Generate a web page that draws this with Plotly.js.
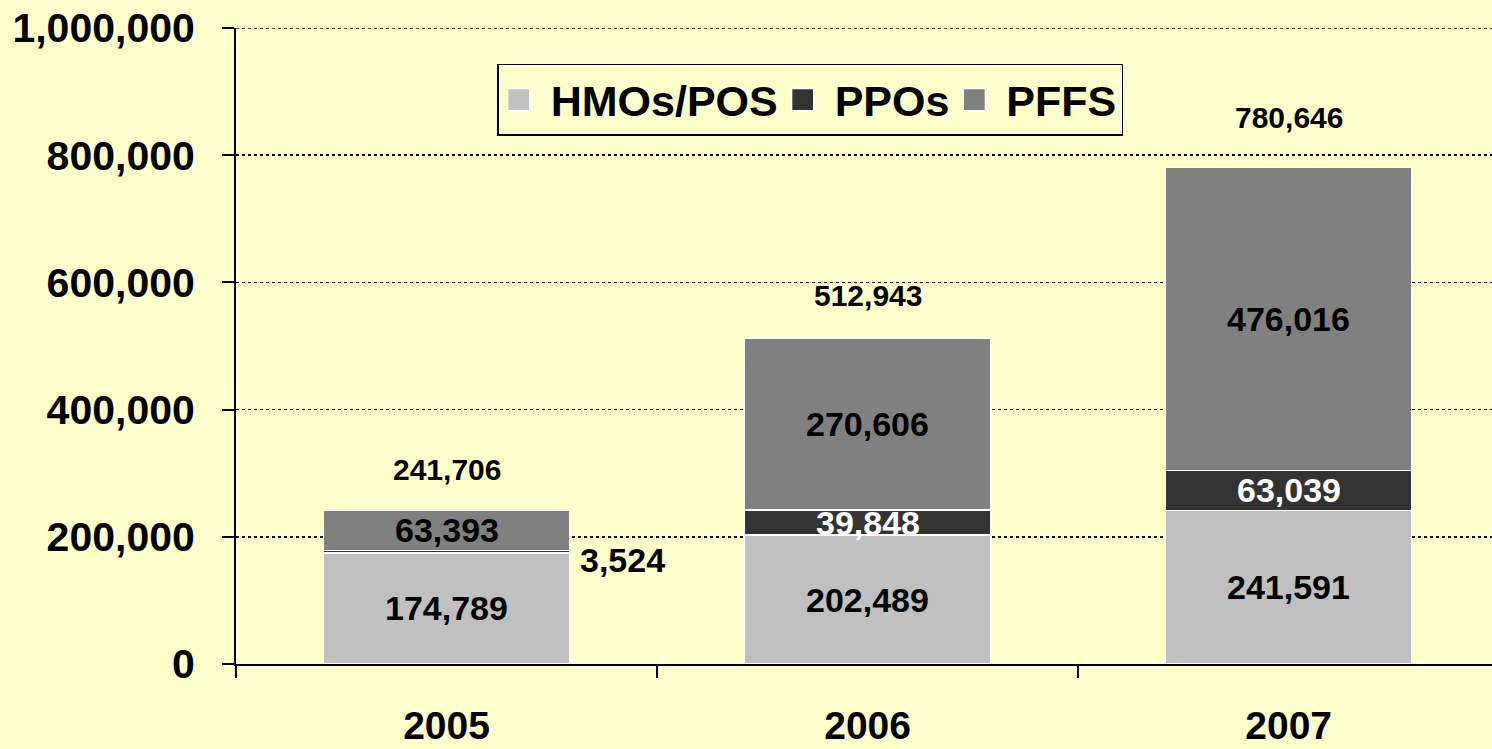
<!DOCTYPE html>
<html>
<head>
<meta charset="utf-8">
<script src="https://cdn.plot.ly/plotly-3.0.1.min.js"></script>
<style>
html,body{margin:0;padding:0;background:#FFFFCC;}
#chart{width:1492px;height:749px;}
</style>
</head>
<body>
<div id="chart"></div>
<script>
const years = ['2005', '2006', '2007'];
const seriesNames = ['HMOs/POS', 'PPOs', 'PFFS'];
const hmo = [174789, 202489, 241591];
const ppo = [3524, 39848, 63039];
const pffs = [63393, 270606, 476016];
const totals = [241706, 512943, 780646];
const yTicks = [0, 200000, 400000, 600000, 800000, 1000000];
const yTickText = ['0', '200,000', '400,000', '600,000', '800,000', '1,000,000'];

// style-only settings
const totalShift = [41, 42, 50];
const FONT = '"Liberation Sans", Arial, sans-serif';
const fmt = v => v.toLocaleString('en-US');
const pad = '\u00a0'; // small gap between legend swatch and label

const lineStyle = {color: '#FFFFFF', width: 1.5};
const traces = [
  {type: 'bar', name: pad + seriesNames[0], x: years, y: hmo, marker: {color: '#C0C0C0', line: lineStyle}, hoverinfo: 'skip'},
  {type: 'bar', name: pad + seriesNames[1], x: years, y: ppo, marker: {color: '#333333', line: lineStyle}, hoverinfo: 'skip'},
  {type: 'bar', name: pad + seriesNames[2], x: years, y: pffs, marker: {color: '#808080', line: lineStyle}, hoverinfo: 'skip'}
];

const labelFont = (c) => ({family: FONT, size: 34, color: c, weight: 700});
const annotations = [];
years.forEach((yr, i) => {
  annotations.push({x: i, y: hmo[i] / 2, text: fmt(hmo[i]), showarrow: false, font: labelFont('#000000')});
  if (i === 0) {
    annotations.push({x: i + 0.292, y: hmo[i] + ppo[i] / 2, text: fmt(ppo[i]), showarrow: false,
      xanchor: 'left', xshift: 9, yshift: -8, font: labelFont('#000000')});
  } else {
    annotations.push({x: i, y: hmo[i] + ppo[i] / 2, text: fmt(ppo[i]), showarrow: false, font: labelFont('#FFFFFF')});
  }
  annotations.push({x: i, y: hmo[i] + ppo[i] + pffs[i] / 2, text: fmt(pffs[i]), showarrow: false, font: labelFont('#000000')});
  annotations.push({x: i, y: totals[i], text: fmt(totals[i]), showarrow: false, yshift: totalShift[i], font: {family: FONT, size: 30, color: '#000000', weight: 700}});
});

const layout = {
  width: 1492, height: 749,
  paper_bgcolor: '#FFFFCC', plot_bgcolor: '#FFFFCC',
  margin: {l: 236, r: 0, t: 28, b: 85},
  barmode: 'stack',
  bargap: 0.416,
  showlegend: true,
  legend: {
    orientation: 'h', traceorder: 'normal',
    x: 0.208, y: 0.944, xanchor: 'left', yanchor: 'top',
    bgcolor: '#FFFFCC', bordercolor: '#000000', borderwidth: 1.5,
    font: {family: FONT, size: 43, color: '#000000', weight: 700},
    itemwidth: 30
  },
  xaxis: {
    type: 'category', range: [-0.5, 2.483],
    showline: true, linecolor: '#000000', linewidth: 2,
    ticks: 'outside', tickson: 'boundaries', ticklen: 12, tickwidth: 2, tickcolor: '#000000',
    showgrid: false, zeroline: false,
    tickfont: {family: FONT, size: 39, color: '#000000', weight: 700},
    ticklabelstandoff: 26
  },
  yaxis: {
    range: [0, 1000000], tickvals: yTicks, ticktext: yTickText,
    showline: true, linecolor: '#000000', linewidth: 2,
    ticks: 'outside', ticklen: 12, tickwidth: 2, tickcolor: '#000000',
    showgrid: true, gridcolor: '#000000', gridwidth: 1.5, griddash: 'dot',
    zeroline: false,
    tickfont: {family: FONT, size: 41, color: '#000000', weight: 700},
    ticklabelstandoff: 19
  },
  shapes: [{
    type: 'line', xref: 'paper', x0: 0, x1: 1, yref: 'y',
    y0: yTicks[yTicks.length - 1], y1: yTicks[yTicks.length - 1],
    line: {color: '#000000', width: 1.5, dash: 'dot'}
  }],
  annotations: annotations
};

Plotly.newPlot('chart', traces, layout, {displayModeBar: false, staticPlot: true}).then(gd => {
  // enlarge legend swatches to the reference's square size
  gd.querySelectorAll('.legend .legendpoints path').forEach(p => {
    const t = p.getAttribute('transform') || '';
    p.setAttribute('transform', t + ' scale(1.85)');
    p.style.strokeWidth = '0.8px';
  });
});
</script>
</body>
</html>
